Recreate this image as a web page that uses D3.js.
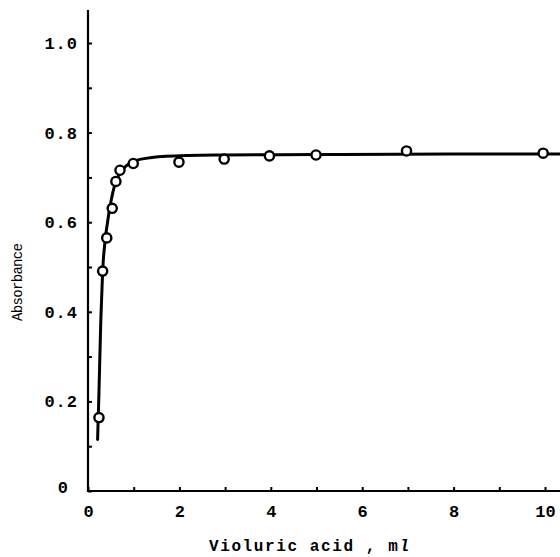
<!DOCTYPE html>
<html>
<head>
<meta charset="utf-8">
<script src="https://cdn.jsdelivr.net/npm/d3@7"></script>
<style>
  body { margin: 0; background: #fff; }
  text { font-family: "Liberation Mono", "Courier New", monospace; font-weight: bold; fill: #000; }
</style>
</head>
<body>
<svg id="chart" width="560" height="557"></svg>
<script>
// measured points
const volumes = [0.24, 0.32, 0.41, 0.53, 0.61, 0.70, 0.99, 1.99, 2.98, 3.97, 4.99, 6.97, 9.96];
const absorb = [0.164, 0.491, 0.565, 0.631, 0.691, 0.716, 0.731, 0.734, 0.741, 0.748, 0.750, 0.759, 0.754];

// hand drawn fitting curve
const curveX = [0.21, 0.24, 0.28, 0.32, 0.37, 0.42, 0.50, 0.60, 0.70, 0.85, 1.0, 1.3, 1.7, 2.2, 3.0, 5.0, 8.0, 10.35];
const curveY = [0.115, 0.22, 0.38, 0.49, 0.555, 0.595, 0.645, 0.688, 0.710, 0.727, 0.736, 0.743, 0.747, 0.749, 0.750, 0.751, 0.752, 0.752];

const yTicks = [0, 0.1, 0.2, 0.3, 0.4, 0.5, 0.6, 0.7, 0.8, 0.9, 1.0];
const xTicks = [0, 1, 2, 3, 4, 5, 6, 7, 8, 9, 10];

const svg = d3.select('#chart');

const x = d3.scaleLinear().domain([0, 10]).range([88, 545]),
    y = d3.scaleLinear().domain([0, 1]).range([491, 43]);

// axis lines
svg.append('line')
    .attr('x1', x(0)).attr('x2', x(0))
    .attr('y1', y(0) + 1).attr('y2', 10)
    .attr('stroke', '#000').attr('stroke-width', 2.2);

svg.append('line')
    .attr('x1', x(0) - 1).attr('x2', 560)
    .attr('y1', y(0)).attr('y2', y(0))
    .attr('stroke', '#000').attr('stroke-width', 2.2);

// y axis
const yAxis = svg.append('g')
    .attr('transform', `translate(${x(0)},0)`)
    .call(d3.axisLeft(y)
        .tickValues(yTicks)
        .tickSize(-4)
        .tickPadding(10)
        .tickFormat(d => Math.round(d * 10) % 2 === 0 ? (d === 0 ? '0' : d3.format('.1f')(d)) : ''));

yAxis.select('.domain').remove();
yAxis.selectAll('.tick line').attr('stroke', '#000').attr('stroke-width', 2);
yAxis.selectAll('.tick text')
    .style('font-size', '17px')
    .attr('letter-spacing', 1)
    .attr('fill', '#000');
yAxis.selectAll('.tick text')
    .filter(d => d === 0)
    .attr('x', -19)
    .attr('dy', '0.1em');

// x axis
const xAxis = svg.append('g')
    .attr('transform', `translate(0,${y(0)})`)
    .call(d3.axisBottom(x)
        .tickValues(xTicks)
        .tickSize(-4)
        .tickPadding(14)
        .tickFormat(d => d % 2 === 0 ? d : ''));

xAxis.select('.domain').remove();
xAxis.selectAll('.tick line').attr('stroke', '#000').attr('stroke-width', 2);
xAxis.selectAll('.tick text')
    .style('font-size', '17px')
    .attr('fill', '#000');

// curve
const pts = curveX.map((v, i) => [v, curveY[i]]);
const line = d3.line()
    .x(d => x(d[0]))
    .y(d => y(d[1]))
    .curve(d3.curveMonotoneX);

svg.append('path')
    .attr('d', line(pts))
    .attr('fill', 'none')
    .attr('stroke', '#000')
    .attr('stroke-width', 3)
    .attr('stroke-linecap', 'round');

// points
svg.append('g')
    .selectAll('circle')
    .data(volumes.map((v, i) => [v, absorb[i]]))
    .join('circle')
    .attr('cx', d => x(d[0]))
    .attr('cy', d => y(d[1]))
    .attr('r', 4.6)
    .attr('fill', '#fff')
    .attr('stroke', '#000')
    .attr('stroke-width', 2.4);

// titles
const xt = svg.append('text')
    .attr('x', 209)
    .attr('y', 551)
    .attr('letter-spacing', 1.6)
    .style('font-size', '16px');
xt.append('tspan').text('Violuric acid , m');
xt.append('tspan').attr('font-style', 'italic').text('l');

svg.append('text')
    .attr('transform', 'translate(22,282) rotate(-90)')
    .attr('text-anchor', 'middle')
    .attr('textLength', 78)
    .style('font-size', '14px')
    .style('font-weight', 'normal')
    .text('Absorbance');
</script>
</body>
</html>
